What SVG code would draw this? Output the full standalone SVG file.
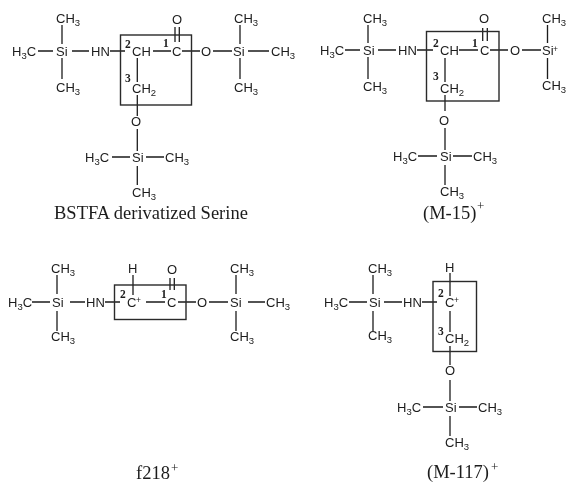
<svg xmlns="http://www.w3.org/2000/svg" width="567" height="483" viewBox="0 0 567 483">
<style>
text{fill:#1c1c1c}
.a{font:13px "Liberation Sans",Arial,sans-serif}
.s{font-size:9.500px}
.n{font:bold 11.500px "Liberation Serif","Times New Roman",serif}
.t{font:18.500px "Liberation Serif","Times New Roman",serif}
.p{font:13px "Liberation Serif","Times New Roman",serif}
.c{font:8.500px "Liberation Sans",Arial,sans-serif}
rect{stroke:#2a2a2a;stroke-width:1.4;fill:none}
</style>
<defs><filter id="soft" x="0" y="0" width="100%" height="100%"><feGaussianBlur stdDeviation="0.35"/></filter></defs>
<rect width="567" height="483" style="fill:#fff;stroke:none"/>
<g filter="url(#soft)">
<g id="connectors">
<path d="M38 51H53M72 51H89M110 51H125M153 51H171M182 51H200M213 51H232M248 51H269M62 25V44M62 58V79M240 25V44M240 58V79M137.300 58V82M137.300 95V116M137.300 129V151M137.300 166V185M112 157H130M146 157H164M175 27V42M179.300 27V42" stroke="#1c1c1c" stroke-width="1.300" fill="none"/>
<path d="M345 50H360M378 50H396M417 50H433M459 50H478M490 50H508M522 50H541M368 25V43M368 57V79M547.500 25V43M547.500 58V79M445 58V82M445 95V111M445 128V150M445 165V185M418 156H437M453 156H472M482.700 28V41M487.300 28V41" stroke="#1c1c1c" stroke-width="1.300" fill="none"/>
<path d="M32 302H50M70 302H85M105 302H120M146 302H165M178 302H196M209 302H228M248 302H265M57 275V294M57 311V331M236 275V294M236 311V331M133 275V295M170 278V290M174.300 278V290" stroke="#1c1c1c" stroke-width="1.300" fill="none"/>
<path d="M349 302H367M384 302H402M422 302H437M373 275V294M373 311V331M450 273V296M450 311V332M450 346V365M450 380V401M450 416V436M423 407H443M459 407H477" stroke="#1c1c1c" stroke-width="1.300" fill="none"/>
</g>
<g id="bstfa-serine">
<rect x="120.500" y="35" width="71" height="70"/>
<text class="a" x="56" y="23">CH<tspan class="s" dy="3">3</tspan></text>
<text class="a" x="12" y="56">H<tspan class="s" dy="3">3</tspan><tspan dy="-3">C</tspan></text>
<text class="a" x="56" y="56">Si</text>
<text class="a" x="56" y="92">CH<tspan class="s" dy="3">3</tspan></text>
<text class="a" x="91" y="56">HN</text>
<text class="n" x="125" y="48">2</text>
<text class="a" x="132" y="56">CH</text>
<text class="n" x="163" y="47">1</text>
<text class="a" x="172" y="56">C</text>
<text class="a" x="172" y="24">O</text>
<text class="a" x="201" y="56">O</text>
<text class="a" x="233" y="56">Si</text>
<text class="a" x="234" y="23">CH<tspan class="s" dy="3">3</tspan></text>
<text class="a" x="234" y="92">CH<tspan class="s" dy="3">3</tspan></text>
<text class="a" x="271" y="56">CH<tspan class="s" dy="3">3</tspan></text>
<text class="n" x="125" y="82">3</text>
<text class="a" x="132" y="93">CH<tspan class="s" dy="3">2</tspan></text>
<text class="a" x="131" y="126">O</text>
<text class="a" x="132" y="162">Si</text>
<text class="a" x="85" y="162">H<tspan class="s" dy="3">3</tspan><tspan dy="-3">C</tspan></text>
<text class="a" x="165" y="162">CH<tspan class="s" dy="3">3</tspan></text>
<text class="a" x="132" y="197">CH<tspan class="s" dy="3">3</tspan></text>
<text class="t" x="54" y="219">BSTFA derivatized Serine</text>
</g>
<g id="m-15">
<rect x="426.500" y="31.500" width="72.500" height="69.500"/>
<text class="a" x="363" y="23">CH<tspan class="s" dy="3">3</tspan></text>
<text class="a" x="320" y="55">H<tspan class="s" dy="3">3</tspan><tspan dy="-3">C</tspan></text>
<text class="a" x="363" y="55">Si</text>
<text class="a" x="363" y="91">CH<tspan class="s" dy="3">3</tspan></text>
<text class="a" x="398" y="55">HN</text>
<text class="n" x="433" y="47">2</text>
<text class="a" x="440" y="55">CH</text>
<text class="n" x="472" y="47">1</text>
<text class="a" x="480" y="55">C</text>
<text class="a" x="479" y="23">O</text>
<text class="a" x="510" y="55">O</text>
<text class="a" x="542" y="55">Si</text><text class="c" x="553" y="52">+</text>
<text class="a" x="542" y="23">CH<tspan class="s" dy="3">3</tspan></text>
<text class="a" x="542" y="90">CH<tspan class="s" dy="3">3</tspan></text>
<text class="n" x="433" y="80">3</text>
<text class="a" x="440" y="93">CH<tspan class="s" dy="3">2</tspan></text>
<text class="a" x="439" y="125">O</text>
<text class="a" x="440" y="161">Si</text>
<text class="a" x="393" y="161">H<tspan class="s" dy="3">3</tspan><tspan dy="-3">C</tspan></text>
<text class="a" x="473" y="161">CH<tspan class="s" dy="3">3</tspan></text>
<text class="a" x="440" y="196">CH<tspan class="s" dy="3">3</tspan></text>
<text class="t" x="423" y="219">(M-15)</text><text class="p" x="477" y="210">+</text>
</g>
<g id="f218">
<rect x="114.500" y="285" width="71.500" height="34.500"/>
<text class="a" x="51" y="273">CH<tspan class="s" dy="3">3</tspan></text>
<text class="a" x="8" y="307">H<tspan class="s" dy="3">3</tspan><tspan dy="-3">C</tspan></text>
<text class="a" x="52" y="307">Si</text>
<text class="a" x="51" y="341">CH<tspan class="s" dy="3">3</tspan></text>
<text class="a" x="86" y="307">HN</text>
<text class="n" x="120" y="298">2</text>
<text class="a" x="127" y="307">C</text><text class="c" x="136" y="303">+</text>
<text class="a" x="128" y="273">H</text>
<text class="n" x="161" y="298">1</text>
<text class="a" x="167" y="307">C</text>
<text class="a" x="167" y="274">O</text>
<text class="a" x="197" y="307">O</text>
<text class="a" x="230" y="307">Si</text>
<text class="a" x="230" y="273">CH<tspan class="s" dy="3">3</tspan></text>
<text class="a" x="230" y="341">CH<tspan class="s" dy="3">3</tspan></text>
<text class="a" x="266" y="307">CH<tspan class="s" dy="3">3</tspan></text>
<text class="t" x="136" y="479">f218</text><text class="p" x="171" y="472">+</text>
</g>
<g id="m-117">
<rect x="433" y="281.500" width="43.500" height="70"/>
<text class="a" x="368" y="273">CH<tspan class="s" dy="3">3</tspan></text>
<text class="a" x="324" y="307">H<tspan class="s" dy="3">3</tspan><tspan dy="-3">C</tspan></text>
<text class="a" x="369" y="307">Si</text>
<text class="a" x="368" y="340">CH<tspan class="s" dy="3">3</tspan></text>
<text class="a" x="403" y="307">HN</text>
<text class="a" x="445" y="272">H</text>
<text class="n" x="438" y="297">2</text>
<text class="a" x="445" y="307">C</text><text class="c" x="454" y="303">+</text>
<text class="n" x="438" y="335">3</text>
<text class="a" x="445" y="343">CH<tspan class="s" dy="3">2</tspan></text>
<text class="a" x="445" y="375">O</text>
<text class="a" x="445" y="412">Si</text>
<text class="a" x="397" y="412">H<tspan class="s" dy="3">3</tspan><tspan dy="-3">C</tspan></text>
<text class="a" x="478" y="412">CH<tspan class="s" dy="3">3</tspan></text>
<text class="a" x="445" y="447">CH<tspan class="s" dy="3">3</tspan></text>
<text class="t" x="427" y="478">(M-117)</text><text class="p" x="491" y="471">+</text>
</g>
</g>
</svg>
